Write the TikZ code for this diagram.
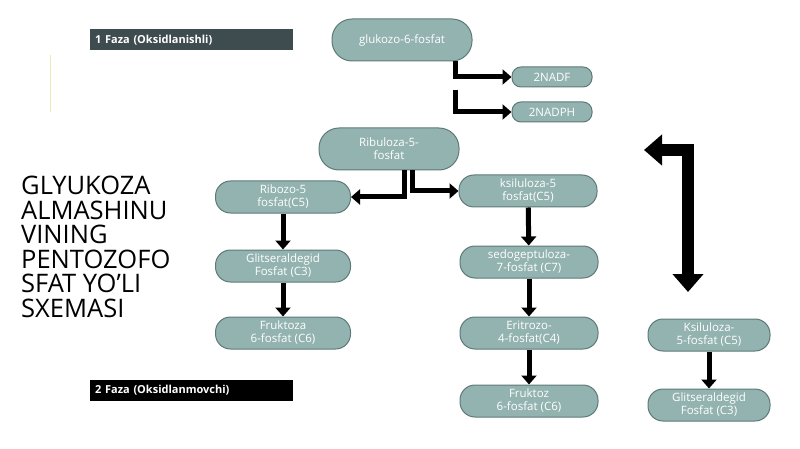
\documentclass[tikz,border=0pt]{standalone}
\usepackage{fontspec}
\setmainfont{Open Sans}
\usetikzlibrary{arrows.meta}
\definecolor{stepfill}{HTML}{93B3B0}
\definecolor{stepdraw}{HTML}{5E7A78}
\definecolor{fazabg}{HTML}{3E4C50}
\tikzset{
  pbox/.style={draw=stepdraw, fill=stepfill, line width=1pt, rounded corners=15pt,
    text=white, font=\fontsize{11.5}{13}\selectfont, align=center, inner sep=1pt},
  flow/.style={line width=5pt, -{Triangle[length=9pt,width=15pt]}},
  faza/.style={fill=fazabg, text=white, font=\bfseries\fontsize{11}{12}\selectfont, anchor=west,
    minimum width=203pt, minimum height=21pt, inner xsep=5pt, text width=193pt}
}
\begin{document}
\begin{tikzpicture}[x=1pt,y=-1pt]
        \useasboundingbox (0,0) rectangle (800,449);

        % the phase labels
        \node[faza] (f1) at (90,40) {1 Faza (Oksidlanishli)};
        \node[faza, fill=black] (f2) at (90,390) {2 Faza (Oksidlanmovchi)};
        \draw[yellow!60!gray!40, line width=1pt] (50,55) -- (50,112);

        % the title
        \node[anchor=north west, align=left, font=\fontsize{25.5}{24.5}\selectfont, inner sep=0pt] (title) at (21,176)
          {GLYUKOZA\\ALMASHINU\\VINING\\PENTOZOFO\\SFAT YO’LI\\SXEMASI};

        % the steps
        \node[pbox, minimum width=140pt, minimum height=42pt, rounded corners=20pt] (glu) at (402,40) {glukozo-6-fosfat};
        \node[pbox, minimum width=80pt, minimum height=20pt, rounded corners=9pt] (nadf) at (552,77) {2NADF};
        \node[pbox, minimum width=80pt, minimum height=20pt, rounded corners=9pt] (nadph) at (552,112) {2NADPH};
        \node[pbox, minimum width=140pt, minimum height=42pt, rounded corners=20pt] (rib) at (389,149) {Ribuloza-5-\\fosfat};
        \node[pbox, minimum width=135pt, minimum height=32pt] (ribozo) at (283,197) {Ribozo-5\\fosfat(C5)};
        \node[pbox, minimum width=138pt, minimum height=32pt] (ksil) at (528,191) {ksiluloza-5\\fosfat(C5)};
        \node[pbox, minimum width=135pt, minimum height=32pt] (glits) at (283,266) {Glitseraldegid\\Fosfat (C3)};
        \node[pbox, minimum width=138pt, minimum height=32pt] (sedo) at (529,262) {sedogeptuloza-\\7-fosfat (C7)};
        \node[pbox, minimum width=135pt, minimum height=32pt] (fruk) at (283,333) {Fruktoza\\6-fosfat (C6)};
        \node[pbox, minimum width=138pt, minimum height=32pt] (eritr) at (529,333) {Eritrozo-\\4-fosfat(C4)};
        \node[pbox, minimum width=138pt, minimum height=32pt] (frukb) at (529,401) {Fruktoz\\6-fosfat (C6)};
        \node[pbox, minimum width=122pt, minimum height=32pt] (ksilb) at (709,335) {Ksiluloza-\\5-fosfat (C5)};
        \node[pbox, minimum width=122pt, minimum height=32pt] (glitsb) at (709,405) {Glitseraldegid\\Fosfat (C3)};

        % the arrows
        \draw[flow] (glu.south -| 455,0) |- (nadf.west);
        \draw[flow] (455,90) |- (nadph.west);
        \draw[flow] (rib.south -| 404,0) |- (ribozo.east);
        \draw[flow] (rib.south -| 412,0) |- (ksil.west);
        \draw[flow] (ribozo) -- (glits);
        \draw[flow] (glits) -- (fruk);
        \draw[flow] (ksil) -- (sedo);
        \draw[flow] (sedo) -- (eritr);
        \draw[flow] (eritr) -- (frukb);
        \draw[flow] (ksilb) -- (glitsb);
        \coordinate (bigtop) at (644,150);
        \coordinate (bigbot) at (688,292);
        \draw[line width=12pt, {Triangle[length=18pt,width=30pt]}-{Triangle[length=18pt,width=30pt]}] (bigtop) -| (bigbot);
\end{tikzpicture}
\end{document}
